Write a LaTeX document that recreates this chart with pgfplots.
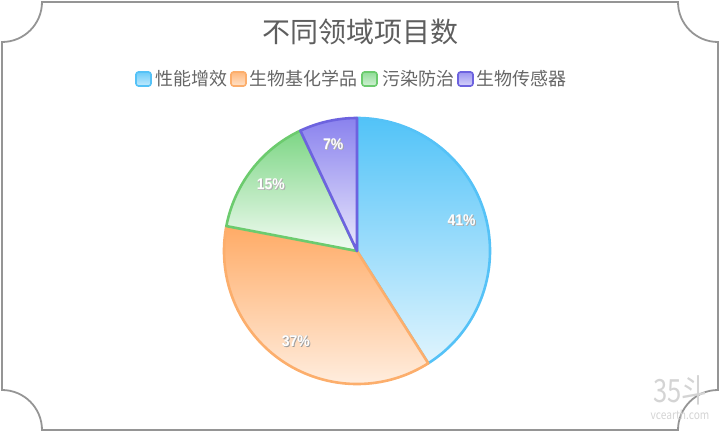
\documentclass[border=0pt]{standalone}
\usepackage{fontspec}
\setmainfont{Noto Sans CJK SC}
\newfontfamily\labfont{Liberation Sans}
\usepackage{pgfplots}
\pgfplotsset{compat=1.18}

\definecolor{blueC}{HTML}{52C3F8}
\definecolor{orangeC}{HTML}{FFAB66}
\definecolor{greenC}{HTML}{7DD685}
\definecolor{purpleC}{HTML}{8A82EE}
\definecolor{blueB}{HTML}{55C2F7}
\definecolor{orangeB}{HTML}{FCAE6C}
\definecolor{greenB}{HTML}{6CCB6E}
\definecolor{purpleB}{HTML}{6D63DF}
\definecolor{framegray}{HTML}{959595}
\definecolor{titlegray}{HTML}{5E5E5E}
\definecolor{legtext}{HTML}{666666}

% shares in percent
\def\vA{41}% 性能增效
\def\vB{37}% 生物基化学品
\def\vC{15}% 污染防治
\def\vD{7}%  生物传感器

\pgfmathsetmacro\aA{90}
\pgfmathsetmacro\aB{\aA-\vA*3.6}
\pgfmathsetmacro\aC{\aB-\vB*3.6}
\pgfmathsetmacro\aD{\aC-\vC*3.6}
\pgfmathsetmacro\aE{\aD-\vD*3.6}
\pgfmathsetmacro\mA{(\aA+\aB)/2}
\pgfmathsetmacro\mB{(\aB+\aC)/2}
\pgfmathsetmacro\mC{(\aC+\aD)/2}
\pgfmathsetmacro\mD{(\aD+\aE)/2}

\newcommand\slice[5]{% start, end, fill, border, light share
  \shade[top color=#3, bottom color=#3!#5!white, draw=#4, line width=2.6pt, line join=round]
    (axis cs:357,181) -- ++(#1:133pt) arc[start angle=#1, end angle=#2, radius=133pt] -- cycle;
}
\tikzset{pielab/.style={xscale=.9, font=\labfont\bfseries\fontsize{15.5}{15.5}\selectfont}}
\newcommand\plabel[2]{% angle, text
  \path (axis cs:358,180) ++(#1:109pt) node[text=black!40, pielab] {#2};
  \path (axis cs:357.5,180.5) ++(#1:109pt) node[text=black!25, pielab] {#2};
  \path (axis cs:357,181) ++(#1:109pt) node[text=white, pielab] {#2};
}
\newcommand\legitem[5]{% icon x, text x, fill, border, name
  \shade[top color=#3!85!white, bottom color=#3!35!white, draw=#4, line width=1.6pt, rounded corners=2.5pt]
    (axis cs:#1,346) rectangle (axis cs:#1+15,360);
  \node[anchor=west, inner sep=0pt, text=legtext, font=\fontsize{18}{18}\selectfont] at (axis cs:#2,353) {#5};
}

\begin{document}
\begin{tikzpicture}
\begin{axis}[
    name=ax,
    width=720pt, height=432pt, scale only axis,
    xmin=0, xmax=720, ymin=0, ymax=432,
    axis lines=none, clip=false,
]
% frame with concave corners
\draw[framegray, line width=1.8pt]
  (axis cs:42,430) -- (axis cs:678,430) arc[start angle=180, end angle=270, radius=40pt]
  -- (axis cs:718,42) arc[start angle=90, end angle=180, radius=40pt]
  -- (axis cs:42,2) arc[start angle=0, end angle=90, radius=40pt]
  -- (axis cs:2,390) arc[start angle=270, end angle=360, radius=40pt] -- cycle;

% watermark
\node[text=black!17, xscale=.8, font=\fontsize{32}{32}\selectfont] at (axis cs:680,42) {35斗};
\node[text=black!17, xscale=.85, font=\fontsize{12}{12}\selectfont] at (axis cs:680,17) {vcearth.com};

% title
\node[text=titlegray, font=\fontsize{28}{28}\selectfont] at (axis cs:360,400) {不同领域项目数};

% legend
\legitem{136}{155}{blueC}{blueB}{性能增效}
\legitem{231}{249}{orangeC}{orangeB}{生物基化学品}
\legitem{362}{382}{greenC}{greenB}{污染防治}
\legitem{458}{476}{purpleC}{purpleB}{生物传感器}

% pie
\slice{\aA}{\aB}{blueC}{blueB}{18}
\slice{\aB}{\aC}{orangeC}{orangeB}{12}
\slice{\aC}{\aD}{greenC}{greenB}{10}
\slice{\aD}{\aE}{purpleC}{purpleB}{18}

\plabel{\mA}{41\%}
\plabel{\mB}{37\%}
\plabel{\mC}{15\%}
\plabel{\mD}{7\%}
\end{axis}
\pgfresetboundingbox
\path (ax.south west) rectangle (ax.north east);
\end{tikzpicture}
\end{document}
